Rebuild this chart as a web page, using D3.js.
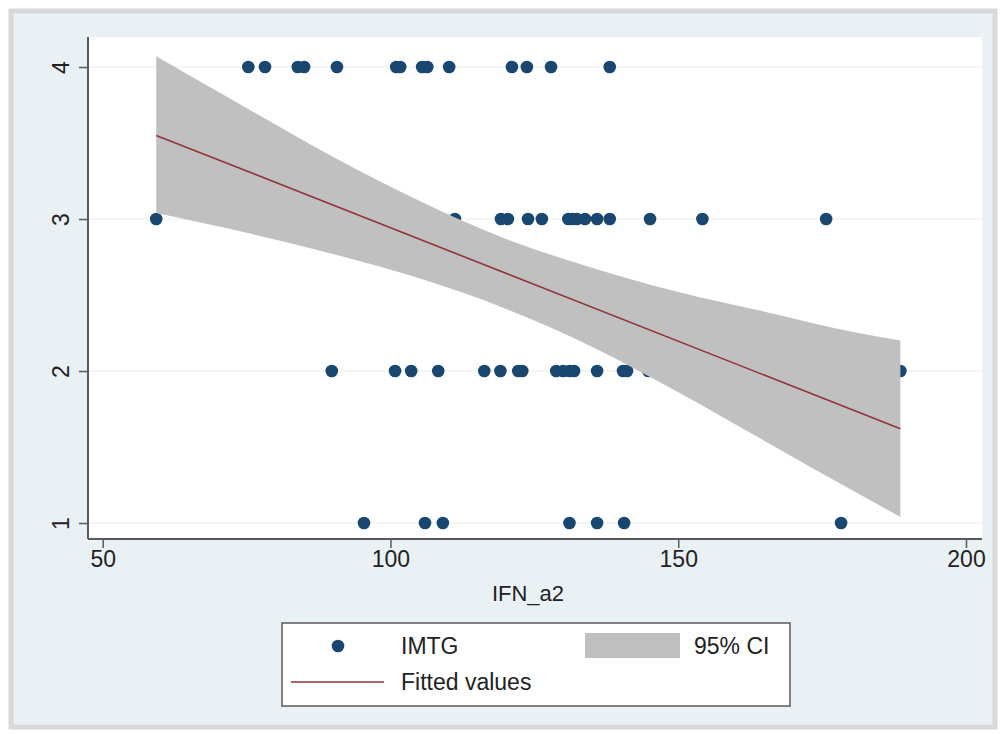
<!DOCTYPE html>
<html>
<head>
<meta charset="utf-8">
<script src="https://cdn.jsdelivr.net/npm/d3@7"></script>
<style>
  body { margin: 0; background: #fff; }
  svg { display: block; font-family: "Liberation Sans", Arial, Helvetica, sans-serif; }
</style>
</head>
<body>
<div id="chart"></div>
<script>
// IMTG score by IFN_a2, one array of x values per category
const row4 = [75.3, 78.2, 83.9, 85.0, 90.7, 101.0, 101.7, 105.5, 106.4, 110.2, 121.1, 123.7, 127.9, 138.1];
const row3 = [59.3, 111.2, 119.2, 120.4, 123.9, 126.3, 130.9, 131.6, 132.4, 133.8, 135.9, 138.1, 145.1, 154.2, 175.7];
const row2 = [89.8, 100.8, 103.6, 108.3, 116.3, 119.1, 122.2, 122.9, 128.8, 130.0, 131.1, 131.9, 135.9, 140.4, 141.1, 144.8, 188.6];
const row1 = [95.4, 106.0, 109.1, 131.1, 135.9, 140.6, 178.3];

// fitted line end points
const fitX = [59.3, 188.6];
const fitY = [3.55, 1.62];

// 95% CI band
const ciX  = [59.3, 75, 90, 105, 120, 135, 150, 165, 180, 188.6];
const ciLo = [3.04, 2.91, 2.77, 2.61, 2.41, 2.16, 1.86, 1.54, 1.22, 1.04];
const ciHi = [4.07, 3.73, 3.41, 3.12, 2.87, 2.68, 2.52, 2.39, 2.26, 2.20];

const xTicks = [50, 100, 150, 200];
const yTicks = [1, 2, 3, 4];

const points = [];
[[1, row1], [2, row2], [3, row3], [4, row4]].forEach(([y, xs]) => {
    xs.forEach(x => points.push({x: x, y: y}));
});

const W = 1000, H = 734;
const plot = {left: 88, right: 982, top: 37, bottom: 539};

const navy = "#1a476f";
const maroon = "#90353b";
const ciGray = "#c0c0c0";

const svg = d3.select("#chart").append("svg")
    .attr("width", W)
    .attr("height", H);

// outer frame and panel
svg.append("rect")
    .attr("x", 11).attr("y", 11)
    .attr("width", W - 16).attr("height", H - 18)
    .attr("fill", "#eaf1f4")
    .attr("stroke", "#d9d9d9")
    .attr("stroke-width", 5);

svg.append("rect")
    .attr("x", plot.left).attr("y", plot.top)
    .attr("width", plot.right - plot.left).attr("height", plot.bottom - plot.top)
    .attr("fill", "#fff");

const x = d3.scaleLinear().domain([50, 200]).range([102.7, 966]);
const y = d3.scaleLinear().domain([1, 4]).range([523, 67]);

// gridlines
svg.append("g").selectAll("line")
    .data(yTicks)
    .join("line")
    .attr("x1", plot.left).attr("x2", plot.right)
    .attr("y1", d => y(d)).attr("y2", d => y(d))
    .attr("stroke", "#ececec")
    .attr("stroke-width", 1.2);

// points
svg.append("g").selectAll("circle")
    .data(points)
    .join("circle")
    .attr("cx", d => x(d.x))
    .attr("cy", d => y(d.y))
    .attr("r", 6.3)
    .attr("fill", navy);

// CI band
const ciData = ciX.map((v, i) => ({x: v, lo: ciLo[i], hi: ciHi[i]}));
svg.append("path")
    .datum(ciData)
    .attr("d", d3.area()
        .x(d => x(d.x))
        .y0(d => y(d.lo))
        .y1(d => y(d.hi))
        .curve(d3.curveMonotoneX))
    .attr("fill", ciGray);

// fitted line
svg.append("path")
    .datum(fitX.map((v, i) => [v, fitY[i]]))
    .attr("d", d3.line().x(d => x(d[0])).y(d => y(d[1])))
    .attr("fill", "none")
    .attr("stroke", maroon)
    .attr("stroke-width", 1.6);

// axes
const xAxis = svg.append("g")
    .attr("transform", `translate(0,${plot.bottom})`)
    .call(d3.axisBottom(x).tickValues(xTicks).tickSize(9).tickPadding(3).tickSizeOuter(0));
xAxis.select(".domain").attr("d", `M${plot.left},0H${plot.right}`);

const yAxis = svg.append("g")
    .attr("transform", `translate(${plot.left},0)`)
    .call(d3.axisLeft(y).tickValues(yTicks).tickFormat(d3.format("d")).tickSize(9).tickSizeOuter(0));
yAxis.select(".domain").attr("d", `M0,${plot.top}V${plot.bottom}`);

[xAxis, yAxis].forEach(g => {
    g.select(".domain").attr("stroke", "#5a5a5a").attr("stroke-width", 2);
    g.selectAll(".tick line").attr("stroke", "#5a5a5a").attr("stroke-width", 1.5);
    g.selectAll(".tick text")
        .attr("fill", "#222")
        .style("font-family", "'Liberation Sans', Arial, sans-serif")
        .style("font-size", "23px");
});

yAxis.selectAll(".tick text")
    .attr("x", null).attr("dy", null)
    .attr("text-anchor", "middle")
    .attr("transform", "translate(-27,0) rotate(-90) translate(0,8)");

svg.append("text")
    .attr("x", 528).attr("y", 601)
    .attr("text-anchor", "middle")
    .attr("fill", "#222")
    .style("font-size", "22px")
    .text("IFN_a2");

// legend
const lg = svg.append("g");
lg.append("rect")
    .attr("x", 282).attr("y", 623)
    .attr("width", 508).attr("height", 83)
    .attr("fill", "#fff")
    .attr("stroke", "#5a5a5a")
    .attr("stroke-width", 1.5);
lg.append("circle").attr("cx", 338).attr("cy", 646).attr("r", 6.3).attr("fill", navy);
lg.append("rect")
    .attr("x", 585).attr("y", 633)
    .attr("width", 95).attr("height", 25)
    .attr("fill", ciGray);
lg.append("line")
    .attr("x1", 291).attr("x2", 384)
    .attr("y1", 682).attr("y2", 682)
    .attr("stroke", maroon)
    .attr("stroke-width", 1.6);

const legendText = [
    {label: "IMTG", tx: 401, ty: 654},
    {label: "95% CI", tx: 694, ty: 654},
    {label: "Fitted values", tx: 401, ty: 690}
];
lg.selectAll("text.leg")
    .data(legendText)
    .join("text")
    .attr("class", "leg")
    .attr("x", d => d.tx)
    .attr("y", d => d.ty)
    .attr("fill", "#222")
    .style("font-size", "23px")
    .text(d => d.label);
</script>
</body>
</html>
